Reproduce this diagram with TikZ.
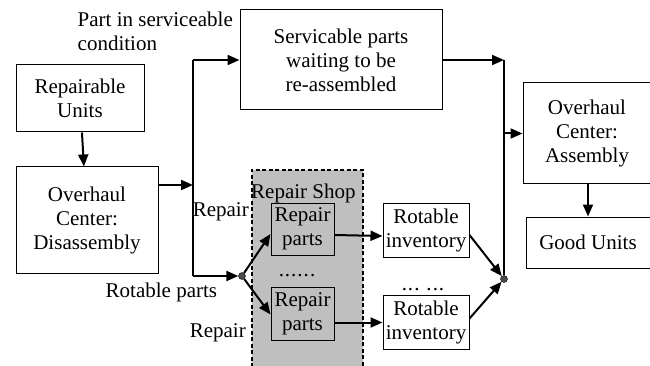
\documentclass[tikz,border=0pt]{standalone}
\usepackage{fontspec}
\setmainfont{Liberation Serif}
\usetikzlibrary{arrows.meta, positioning}

\begin{document}
\begin{tikzpicture}[x=1pt, y=-1pt,
every node/.append style = {inner sep=1.5pt, font=\fontsize{21}{24}\selectfont},
  blok/.style = {rectangle, draw, line width=1pt, align=center, inner sep=0pt},
  shopbox/.style = {rectangle, draw, fill=black!25, line width=1.8pt,
                 dash pattern=on 4pt off 2.5pt},
   pil/.style = {line width=2pt, -{Triangle[length=12pt,width=10pt]}},
   lin/.style = {line width=1.6pt},
  knot/.style = {circle, draw, fill=black!70, inner sep=0pt, minimum size=7pt}
                    ]
\useasboundingbox (0,0) rectangle (650,366);
%nodes
\node (shop)    [shopbox, anchor=north west,
                 minimum width=111pt, minimum height=215pt] at (251,169) {};
\node (shoptxt) [anchor=base west, inner sep=0pt] at (251,198) {Repair Shop};
%
\node (units)   [blok, minimum width=128pt, minimum height=67pt]  at (80,98.5)
                {Repairable\\Units};
\node (disasm)  [blok, minimum width=142pt, minimum height=106pt] at (87,220)
                {Overhaul\\Center:\\Disassembly};
\node (wait)    [blok, minimum width=202pt, minimum height=100pt] at (341,60)
                {Servicable parts\\waiting to be\\re-assembled};
\node (rp1)     [blok, fill=black!25, minimum width=63pt, minimum height=52pt]
                at (302.5,229) {Repair\\parts};
\node (rp2)     [blok, fill=black!25, minimum width=63pt, minimum height=53pt]
                at (302.5,313.5) {Repair\\parts};
\node (inv1)    [blok, minimum width=86pt, minimum height=54pt] at (426,230)
                {Rotable\\inventory};
\node (inv2)    [blok, minimum width=86pt, minimum height=54pt] at (426,322.5)
                {Rotable\\inventory};
\node (asm)     [blok, minimum width=128pt, minimum height=101pt] at (587,133.5)
                {Overhaul\\Center:\\Assembly};
\node (good)    [blok, minimum width=124pt, minimum height=51pt] at (588,242.5)
                {Good Units};
%
\node (split)   [knot] at (242,276) {};
\node (merge)   [knot] at (504,279) {};
\coordinate (jtop) at (193,60);
\coordinate (jmid) at (193,185);
\coordinate (jbot) at (193,276);
% labels
\node (lserv)   [anchor=north west, align=left] at (76,10)
                {Part in serviceable\\condition};
\node (lrot)    [anchor=west]  at (104,292) {Rotable parts};
\node (lrep1)   [anchor=east, inner sep=0pt] at (249,212) {Repair};
\node (lrep2)   [anchor=east, inner sep=0pt] at (246,333) {Repair};
\node (dots1)   at (297,276) {.\kern1pt.\kern1pt.\kern1pt.\kern1pt.\kern1pt.};
\node (dots2)   at (423,290) {.\kern1pt.\kern1pt.\,\,.\kern1pt.\kern1pt.};
% edges
\draw[pil]  (units)     --  (disasm);
\draw[pil]  (disasm.east |- jmid) -- (jmid);
\draw[lin]  (jtop)      --  (jbot);
\draw[pil]  (jtop)      --  (wait.west);
\draw[pil]  (jbot)      --  (split);
\draw[pil]  (split)     --  ([yshift=-5pt]rp1.west);
\draw[pil]  (split)     --  ([yshift=-1pt]rp2.west);
\draw[pil]  ([yshift=-6pt]rp1.east) -- ([yshift=-6pt]inv1.west);
\draw[pil]  (rp2.east |- inv2.west) -- (inv2.west);
\draw[pil]  ([yshift=-5pt]inv1.east) -- (merge);
\draw[pil]  ([yshift=4pt]inv2.east)  -- (merge);
\draw[pil]  (wait.east) --  (wait.east -| merge);
\draw[lin]  (wait.east -| merge) -- (merge);
\draw[pil]  (asm.west -| merge)  -- (asm.west);
\draw[pil]  (asm.south -| good)  -- (good);
\end{tikzpicture}
\end{document}
